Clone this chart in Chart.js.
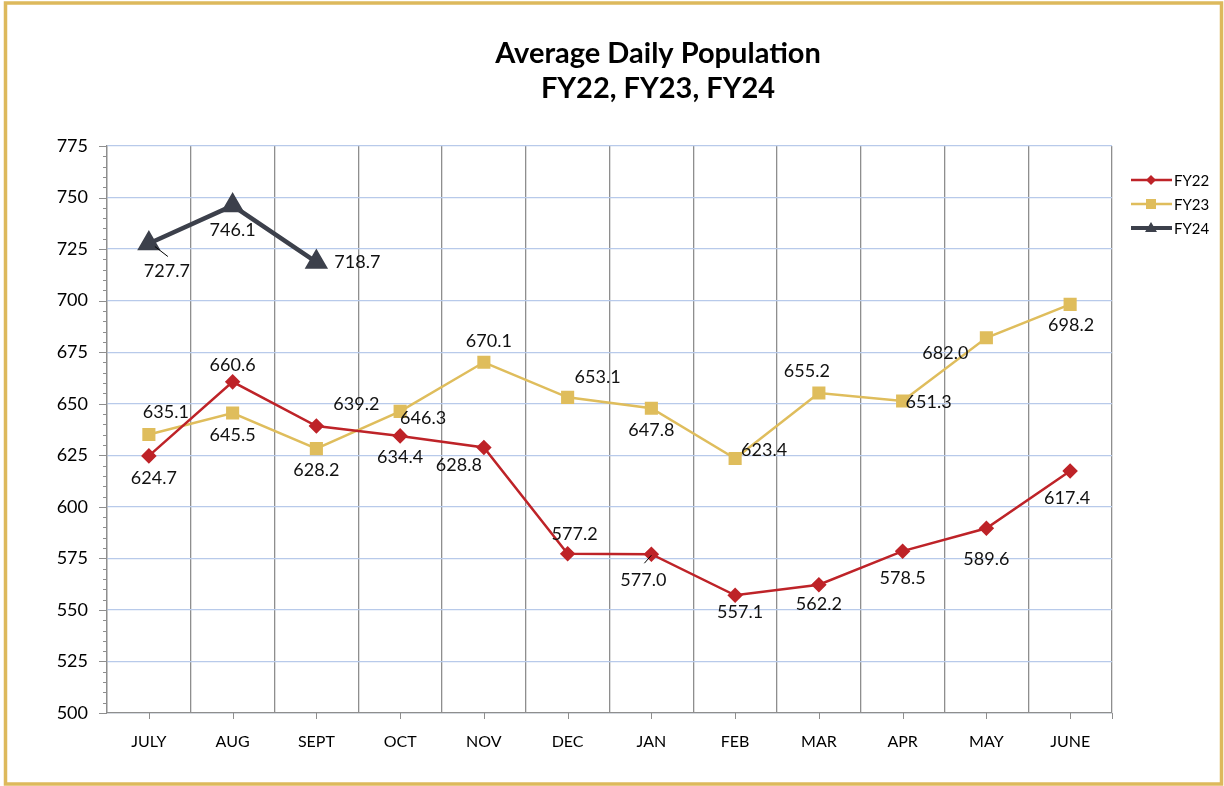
<!DOCTYPE html>
<html>
<head>
<meta charset="utf-8">
<script src="https://cdn.jsdelivr.net/npm/chart.js@4"></script>
<style>
  html,body{margin:0;padding:0;background:#fff;}
  #wrap{width:1224px;height:786px;position:relative;}
</style>
</head>
<body>
<div id="wrap"><canvas id="c" width="1224" height="786"></canvas></div>
<script>
// === data ===
const months = ["JULY","AUG","SEPT","OCT","NOV","DEC","JAN","FEB","MAR","APR","MAY","JUNE"];
const fy22 = [624.7, 660.6, 639.2, 634.4, 628.8, 577.2, 577.0, 557.1, 562.2, 578.5, 589.6, 617.4];
const fy23 = [635.1, 645.5, 628.2, 646.3, 670.1, 653.1, 647.8, 623.4, 655.2, 651.3, 682.0, 698.2];
const fy24 = [727.7, 746.1, 718.7];
const yMin = 500, yMax = 775, yStep = 25;
const titleLines = ["Average Daily Population", "FY22, FY23, FY24"];

// === styling ===
const C = {red:"#BE2328", gold:"#DFBD5C", slate:"#3C404B", frame:"#DDB95C",
           hgrid:"#B8CAEA", vgrid:"#8E8E8E"};
const FONT = "Lato, 'Open Sans', sans-serif";

// label offsets (px from point) per dataset, [dx, dy]
const labelOff = [
  [[5,22],[0,-17],[40,-22],[0,21],[-25,18],[7,-20],[-8,26],[5,17],[0,19],[0,27],[0,31],[-3,27]],
  [[17,-22],[0,22],[0,22],[23,7],[5,-21],[30,-20],[0,22],[29,-8],[-12,-22],[26,1],[-41,15],[1,21]],
  [[18,28],[0,25],[41,0]]
];

const decor = {
  id:"decor",
  beforeDraw(chart){
    const ctx = chart.ctx;
    ctx.save();
    ctx.fillStyle = "#fff";
    ctx.fillRect(0,0,chart.width,chart.height);
    ctx.strokeStyle = C.frame; ctx.lineWidth = 3.5;
    ctx.strokeRect(5.5, 3, 1216, 781);
    ctx.restore();
  },
  afterDraw(chart){
    const ctx = chart.ctx, a = chart.chartArea;
    const x = chart.scales.x, y = chart.scales.y;
    ctx.save();
    // title
    ctx.fillStyle = "#000"; ctx.textAlign = "center"; ctx.textBaseline = "alphabetic";
    ctx.font = "bold 29px " + FONT;
    ctx.fillText(titleLines[0], 658, 63);
    ctx.fillText(titleLines[1], 658, 98);
    // minor / major y ticks
    ctx.strokeStyle = C.vgrid; ctx.lineWidth = 1;
    for(let v=yMin; v<=yMax; v+=5){
      const py = Math.round(y.getPixelForValue(v))+0.5;
      const len = (v%25===0) ? 8 : 4;
      ctx.beginPath(); ctx.moveTo(a.left-len, py); ctx.lineTo(a.left, py); ctx.stroke();
    }
    // x ticks at category centres
    for(let i=0;i<months.length;i++){
      const px = Math.round(x.getPixelForValue(i))+0.5;
      ctx.beginPath(); ctx.moveTo(px, a.bottom); ctx.lineTo(px, a.bottom+6); ctx.stroke();
    }
    ctx.beginPath(); ctx.moveTo(a.right+0.5, a.bottom); ctx.lineTo(a.right+0.5, a.bottom+6); ctx.stroke();
    // data labels
    ctx.textBaseline = "middle";
    ctx.font = "18px " + FONT; ctx.fillStyle = "#111";
    chart.data.datasets.forEach((ds,di)=>{
      const meta = chart.getDatasetMeta(di);
      meta.data.forEach((pt,j)=>{
        const o = labelOff[di][j];
        ctx.fillText(ds.data[j].toFixed(1), pt.x+o[0], pt.y+o[1]);
      });
    });
    // leader lines
    ctx.strokeStyle = "#000"; ctx.lineWidth = 1;
    const p1 = chart.getDatasetMeta(2).data[0];
    ctx.beginPath(); ctx.moveTo(p1.x+6, p1.y+3); ctx.lineTo(p1.x+19, p1.y+13); ctx.stroke();
    const p2 = chart.getDatasetMeta(0).data[6];
    ctx.beginPath(); ctx.moveTo(p2.x-7, p2.y+9); ctx.lineTo(p2.x, p2.y+1); ctx.stroke();
    // legend
    ctx.textAlign = "left"; ctx.font = "15px " + FONT; ctx.fillStyle = "#000";
    chart.data.datasets.forEach((ds,di)=>{
      const ly = 180 + di*24;
      ctx.strokeStyle = ds.borderColor; ctx.lineWidth = di===2 ? 4 : 2.5;
      ctx.beginPath(); ctx.moveTo(1131, ly); ctx.lineTo(1172, ly); ctx.stroke();
      ctx.fillStyle = ds.borderColor;
      ctx.beginPath();
      if(di===0){ ctx.moveTo(1151,ly-5); ctx.lineTo(1156,ly); ctx.lineTo(1151,ly+5); ctx.lineTo(1146,ly); }
      else if(di===1){ ctx.rect(1146,ly-5,10,10); }
      else { ctx.moveTo(1151,ly-6); ctx.lineTo(1157,ly+4); ctx.lineTo(1145,ly+4); }
      ctx.closePath(); ctx.fill();
      ctx.fillStyle = "#000";
      ctx.fillText(ds.label, 1174, ly+1);
    });
    ctx.restore();
  }
};

new Chart(document.getElementById("c"), {
  type:"line",
  data:{
    labels: months,
    datasets:[
      {label:"FY22", data:fy22, borderColor:C.red, backgroundColor:C.red, borderWidth:2.5,
       pointStyle:"rectRot", pointRadius:6, pointHoverRadius:6, tension:0},
      {label:"FY23", data:fy23, borderColor:C.gold, backgroundColor:C.gold, borderWidth:2.5,
       pointStyle:"rect", pointRadius:7.5, pointHoverRadius:7.5, tension:0},
      {label:"FY24", data:fy24, borderColor:C.slate, backgroundColor:C.slate, borderWidth:4.5,
       pointStyle:"triangle", pointRadius:9, pointHoverRadius:9, tension:0}
    ]
  },
  options:{
    responsive:false, animation:false,
    layout:{padding:{top:146, right:112, left:0, bottom:0}},
    plugins:{legend:{display:false}, title:{display:false}, tooltip:{enabled:false}},
    scales:{
      x:{
        offset:true,
        grid:{offset:true, color:C.vgrid, lineWidth:1.3, drawTicks:false},
        border:{color:C.vgrid, width:1.3},
        ticks:{font:{family:FONT, size:16}, color:"#000", padding:19},
        afterFit(s){ s.height = 73; }
      },
      y:{
        min:yMin, max:yMax,
        grid:{color:C.hgrid, lineWidth:1.2, drawTicks:false},
        border:{color:C.vgrid, width:1.3},
        ticks:{stepSize:yStep, font:{family:FONT, size:18}, color:"#000", padding:19},
        afterFit(s){ s.width = 107; }
      }
    }
  },
  plugins:[decor]
});
</script>
</body>
</html>
